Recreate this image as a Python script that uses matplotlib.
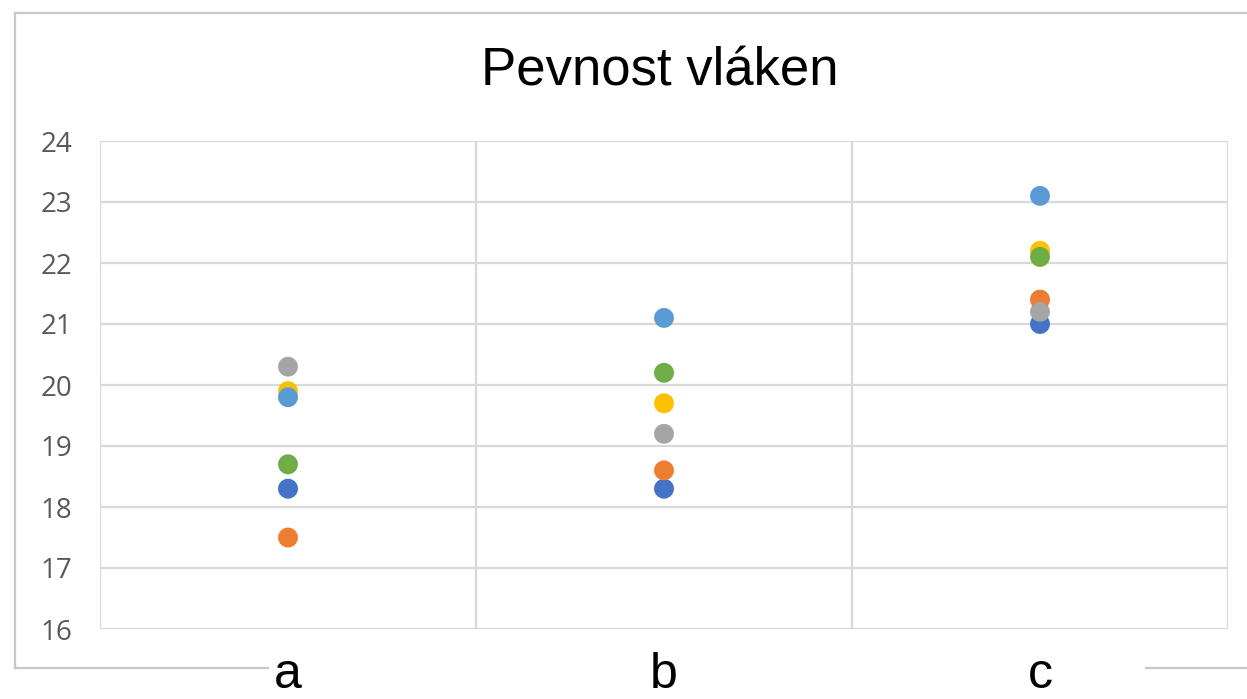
import matplotlib
matplotlib.use('Agg')
import matplotlib.pyplot as plt
from matplotlib.lines import Line2D
import numpy as np

# data
categories = ['a', 'b', 'c']
series_1 = [18.3, 18.3, 21.0]   # blue
series_2 = [17.5, 18.6, 21.4]   # orange
series_3 = [20.3, 19.2, 21.2]   # gray
series_4 = [19.9, 19.7, 22.2]   # yellow
series_5 = [19.8, 21.1, 23.1]   # light blue
series_6 = [18.7, 20.2, 22.1]   # green
y_ticks = [16, 17, 18, 19, 20, 21, 22, 23, 24]

colors = ['#4472C4', '#ED7D31', '#A5A5A5', '#FFC000', '#5B9BD5', '#70AD47']
W, H = 1247, 699

fig = plt.figure(figsize=(W / 100, H / 100), dpi=100)
ax = fig.add_axes([100 / W, 1 - 629 / H, 1128 / W, 488 / H])

x = np.arange(len(categories)) + 0.5
for vals, c in zip([series_1, series_2, series_3, series_4, series_5, series_6], colors):
    ax.scatter(x, vals, s=205, color=c, edgecolors='none', zorder=3, clip_on=False)

ax.set_xlim(0, len(categories))
ax.set_ylim(min(y_ticks), max(y_ticks))
ax.set_yticks(y_ticks)
ax.set_xticks(np.arange(len(categories) + 1))
ax.set_xticklabels([])
ax.grid(True, color='#D9D9D9', linewidth=1.6)
for s in ax.spines.values():
    s.set_visible(False)
ax.tick_params(axis='both', length=0)
ax.tick_params(axis='y', pad=20, labelsize=20, labelcolor='#595959')
for lbl in ax.get_yticklabels():
    lbl.set_fontfamily('Open Sans')

# title
fig.text(660 / W, 1 - 72 / H, 'Pevnost vláken', ha='center', va='center',
         fontsize=38, family='Liberation Sans', color='black')

# chart frame, broken at the bottom where the category labels sit
fc = '#C8C8C8'
fig.add_artist(Line2D([15 / W, 1], [1 - 13 / H] * 2, color=fc, lw=1.6, transform=fig.transFigure))
fig.add_artist(Line2D([15 / W] * 2, [1 - 13 / H, 1 - 668 / H], color=fc, lw=1.6, transform=fig.transFigure))
fig.add_artist(Line2D([15 / W, 268 / W], [1 - 668 / H] * 2, color=fc, lw=1.6, transform=fig.transFigure))
fig.add_artist(Line2D([1146 / W, 1], [1 - 668 / H] * 2, color=fc, lw=1.6, transform=fig.transFigure))

# category labels below the frame
for xi, cat in zip(x, categories):
    fx = (100 + 1128 * xi / len(categories)) / W
    fig.text(fx, 1 / H, cat, ha='center', va='bottom',
             fontsize=36, family='Liberation Sans', color='black')

fig.savefig('out.png', dpi=100)
plt.close(fig)
